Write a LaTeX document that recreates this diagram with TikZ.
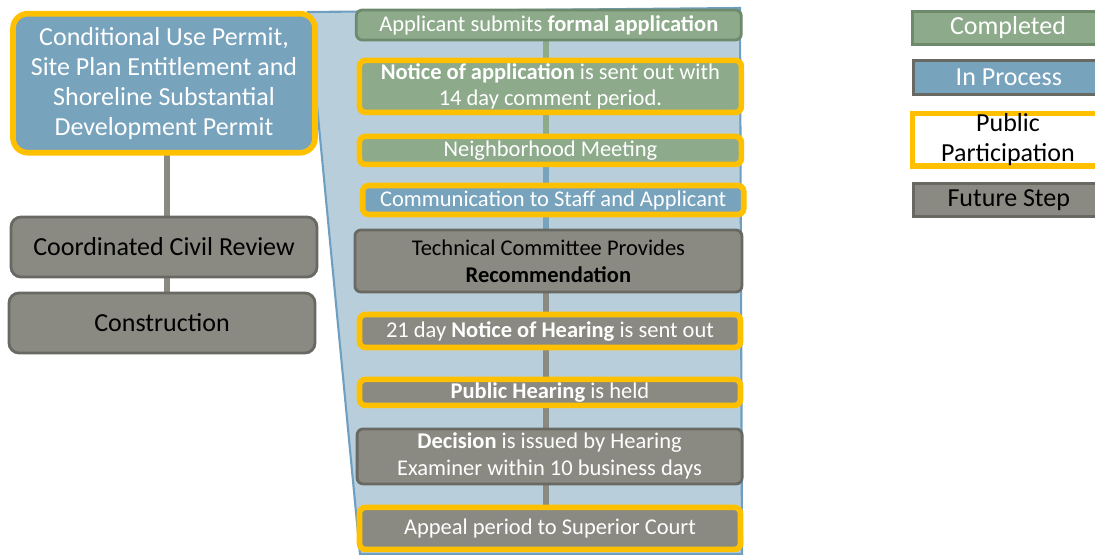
\documentclass[tikz,border=0pt]{standalone}
\usepackage{fontspec}
\setmainfont{Carlito}
\usetikzlibrary{backgrounds}

\definecolor{cgreen}{HTML}{8DAA8B}
\definecolor{cgreendk}{HTML}{6E8A6C}
\definecolor{cblue}{HTML}{77A3BD}
\definecolor{cgray}{HTML}{8A8A82}
\definecolor{cgraydk}{HTML}{696964}
\definecolor{cyellow}{HTML}{FFC000}
\definecolor{cfunnel}{HTML}{B9CEDB}
\definecolor{cfunneldk}{HTML}{6F9FC0}

\tikzset{
  stepbox/.style={rectangle, rounded corners=0.15cm, inner sep=0pt, align=center,
    text=white, font=\fontsize{16}{19.2}\selectfont, minimum width=9.55cm},
  bigbox/.style={stepbox, rounded corners=0.25cm, font=\fontsize{18.5}{21.3}\selectfont,
    minimum width=7.65cm, minimum height=1.5cm},
  keybox/.style={stepbox, rounded corners=0pt, font=\fontsize{18.5}{21.3}\selectfont,
    minimum width=4.78cm, minimum height=0.825cm},
  done/.style={fill=cgreen, draw=cgreendk, line width=2pt},
  inproc/.style={fill=cblue, draw=cblue, line width=2pt},
  future/.style={fill=cgray, draw=cgraydk, line width=2pt},
  public/.style={draw=cyellow, line width=4pt},
  link/.style={line width=4.3pt, draw=cgray},
}

\begin{document}
\begin{tikzpicture}[x=1cm, y=-1cm]
  \useasboundingbox (0,0) rectangle (27.375,13.85);
  \clip (0,0) rectangle (27.375,13.85);

  % left column
  \coordinate (stem) at (4.17,0);
  \node[bigbox, inproc, public, rounded corners=0.37cm, minimum width=7.55cm,
    minimum height=3.475cm] (cup) at (4.1,2.08)
    {Conditional Use Permit,\\Site Plan Entitlement and\\Shoreline Substantial\\Development Permit};
  \node[bigbox, future, text=black] (civil) at (4.1,6.175) {Coordinated Civil Review};
  \node[bigbox, future, text=black] (build) at (4.05,8.075) {Construction};

  % review steps
  \coordinate (spine) at (13.65,0);
  \node[stepbox, done, minimum width=9.625cm, minimum height=0.75cm] (s1) at (13.72,0.625)
    {Applicant submits \textbf{formal application}};
  \node[stepbox, done, public, minimum height=1.3cm] (s2) at (13.76,2.16)
    {\textbf{Notice of application} is sent out with\\14 day comment period.};
  \node[stepbox, done, public, minimum height=0.7cm] (s3) at (13.76,3.76)
    {Neighborhood Meeting};
  \node[stepbox, inproc, public, minimum width=9.525cm, minimum height=0.725cm] (s4) at (13.83,5.0)
    {Communication to Staff and Applicant};
  \node[stepbox, future, text=black, minimum width=9.675cm, minimum height=1.55cm] (s5) at (13.71,6.525)
    {Technical Committee Provides\\\textbf{Recommendation}};
  \node[stepbox, future, public, minimum width=9.525cm, minimum height=0.825cm] (s6) at (13.75,8.275)
    {21 day \textbf{Notice of Hearing} is sent out};
  \node[stepbox, future, public, minimum width=9.525cm, minimum height=0.65cm] (s7) at (13.75,9.81)
    {\textbf{Public Hearing} is held};
  \node[stepbox, future, minimum width=9.625cm, minimum height=1.375cm] (s8) at (13.74,11.41)
    {\textbf{Decision} is issued by Hearing\\Examiner within 10 business days};
  \node[stepbox, future, public, minimum width=9.525cm, minimum height=1.05cm] (s9) at (13.75,13.21)
    {Appeal period to Superior Court};

  % key
  \node[keybox, done] (kdone) at (25.2,0.7) {Completed};
  \node[keybox, fill=cblue, draw=cgraydk, line width=2pt, minimum height=0.85cm] (kproc) at (25.22,1.94) {In Process};
  \node[keybox, fill=white, public, text=black, minimum height=1.225cm] (kpub) at (25.2,3.49) {Public\\Participation};
  \node[keybox, future, text=black] (kfut) at (25.22,5.0) {Future Step};

  \begin{scope}[on background layer]
    \filldraw[fill=cfunnel, draw=cfunneldk, line width=1.5pt]
      (7.7,0.3) -- (18.5,0.2) -- (18.55,13.85) -- (9.0,13.85) -- cycle;
    \draw[link, draw=cgreen] (s1 -| spine) -- (s3 -| spine);
    \draw[link, draw=cblue] (s3 -| spine) -- (s5 -| spine);
    \draw[link] (s5 -| spine) -- (s9 -| spine);
    \draw[link] (cup -| stem) -- (build -| stem);
  \end{scope}
\end{tikzpicture}
\end{document}
